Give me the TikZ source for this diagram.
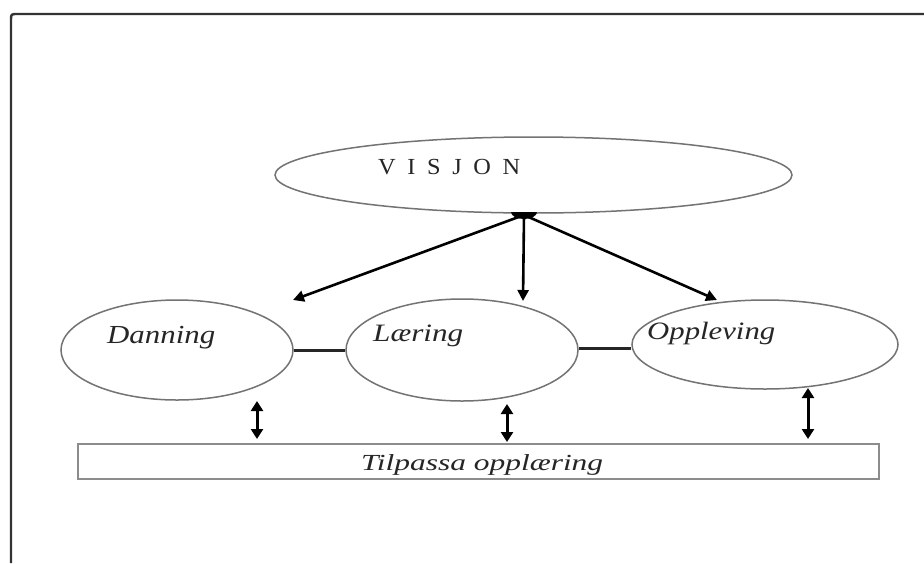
\documentclass[tikz,border=0pt]{standalone}
\usepackage{fontspec}
\setmainfont{Liberation Serif}
\usetikzlibrary{arrows.meta,shapes.geometric}

\tikzset{
  framecol/.style={draw=black!80, line width=2.4pt},
  bubble/.style={ellipse, draw=black!55, line width=1.5pt, inner sep=0pt},
  baseline box/.style={rectangle, draw=black!45, line width=2.4pt, inner sep=0pt},
  lbl/.style={inner sep=0pt, anchor=base west, text=black!85},
  fan/.style={draw=black, line width=2.6pt, -{Triangle[length=11pt,width=11pt]}},
  twoway/.style={draw=black, line width=3pt, {Triangle[length=10pt,width=12pt]}-{Triangle[length=10pt,width=12pt]}},
  link/.style={draw=black!85, line width=3pt}
}

\begin{document}
\begin{tikzpicture}[x=1pt, y=-1pt]
  \useasboundingbox (0,0) rectangle (924,563);
  \fill[white] (0,0) rectangle (924,563);

  % page frame with its small hook at the top left corner
  \draw[framecol] (11,563) -- (11,20) .. controls (11,14) .. (18,14) -- (924,14);

  % ellipses
  \node[bubble, minimum width=517pt, minimum height=76pt] (visjon) at (533.5,175) {};
  \node[bubble, minimum width=232pt, minimum height=100pt] (danning) at (177,350) {};
  \node[bubble, minimum width=232pt, minimum height=102pt] (laering) at (462,350) {};
  \node[bubble, minimum width=266pt, minimum height=89pt] (oppleving) at (765,344.5) {};

  % bar at the bottom
  \node[baseline box, minimum width=801pt, minimum height=35pt] (tilpassa) at (478.5,461.5) {};

  % texts
  \node[lbl, font=\fontsize{23}{23}\selectfont] (visjontxt) at (378,174)
    {\resizebox{142pt}{\height}{V\hspace{11pt}I\hspace{11pt}S\hspace{11pt}J\hspace{11pt}O\hspace{11pt}N}};
  \node[lbl, font=\fontsize{26}{26}\selectfont] (danningtxt) at (107,343)
    {\resizebox{108pt}{\height}{\itshape Danning}};
  \node[lbl, font=\fontsize{25}{25}\selectfont] (laeringtxt) at (373,341)
    {\resizebox{90pt}{\height}{\itshape Læring}};
  \node[lbl, font=\fontsize{25}{25}\selectfont] (opplevingtxt) at (647,339)
    {\resizebox{128pt}{\height}{\itshape Oppleving}};
  \node[lbl, font=\fontsize{23}{23}\selectfont] (tilpassatxt) at (361,470)
    {\resizebox{242pt}{\height}{\itshape Tilpassa opplæring}};

  % the three arrows leaving the vision
  \coordinate (src) at (524,215);
  \coordinate (toDanning) at (293,300);
  \coordinate (toLaering) at (523,301);
  \coordinate (toOppleving) at (717,300);
  \draw[fan] (src) -- (toDanning);
  \draw[fan] (src) -- (toLaering);
  \draw[fan] (src) -- (toOppleving);
  \fill[black] (511,212) arc[start angle=180, end angle=0, x radius=13, y radius=7];

  % links between the ellipses
  \draw[link] (danning.east) -- (danning.east -| laering.west);
  \draw[link] ([yshift=2pt]laering.east) -- ([yshift=2pt]laering.east -| oppleving.west);

  % two-way arrows down to the bar
  \coordinate (dTop) at (257,401);
  \coordinate (dBot) at (257,439);
  \coordinate (lTop) at (507,404);
  \coordinate (lBot) at (507,442);
  \coordinate (oTop) at (808,388);
  \coordinate (oBot) at (808,439);
  \draw[twoway] (dTop) -- (dBot);
  \draw[twoway] (lTop) -- (lBot);
  \draw[twoway] (oTop) -- (oBot);
\end{tikzpicture}
\end{document}
